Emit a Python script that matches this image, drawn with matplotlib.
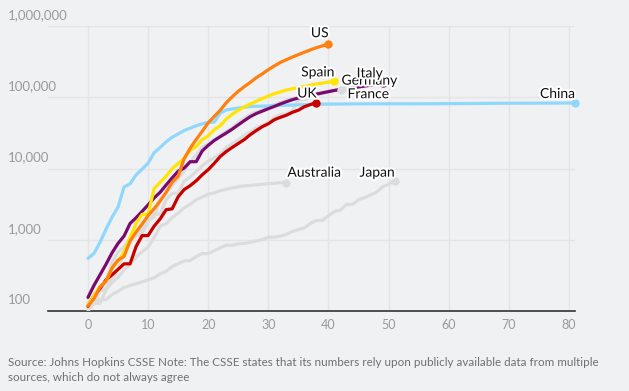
#!/usr/bin/env python3

import matplotlib
matplotlib.use("Agg")
import matplotlib.pyplot as plt
import matplotlib.patheffects as pe
from matplotlib.ticker import FixedLocator, NullLocator

# cumulative confirmed cases, day 0 = first day with ~100 cases
us = [118, 149, 217, 262, 402, 518, 583, 959, 1281, 1663, 2179, 2727, 3499, 4632,
      6421, 7783, 13747, 19273, 25600, 33276, 43847, 53740, 65778, 83836, 101657,
      121478, 140886, 161807, 188172, 213242, 243622, 275367, 308650, 336802,
      366317, 397121, 428654, 462780, 496535, 526396, 555313]
spain = [120, 165, 222, 259, 400, 500, 673, 1073, 1695, 2277, 2277, 5232, 6391, 7798,
         9942, 11748, 13910, 17963, 20410, 25374, 28768, 35136, 39885, 49515, 57786,
         65719, 73235, 80110, 87956, 95923, 104118, 112065, 119199, 126168, 131646,
         136675, 141942, 148220, 153222, 158273, 163027, 166831]
italy = [155, 229, 322, 453, 655, 888, 1128, 1694, 2036, 2502, 3089, 3858, 4636, 5883,
         7375, 9172, 10149, 12462, 12462, 17660, 21157, 24747, 27980, 31506, 35713,
         41035, 47021, 53578, 59138, 63927, 69176, 74386, 80589, 86498, 92472, 97689,
         101739, 105792, 110574, 115242, 119827, 124632, 128948, 132547, 135586,
         139422, 143626, 147577, 152271, 156363]
uk = [116, 164, 207, 274, 322, 384, 459, 459, 802, 1144, 1145, 1551, 1960, 2642, 2716,
      4014, 5067, 5745, 6726, 8164, 9640, 11812, 14745, 17312, 19780, 22453, 25481,
      29865, 34173, 38689, 42477, 48436, 52279, 55949, 61474, 65872, 73758, 78991,
      84279]
china = [548, 643, 920, 1406, 2075, 2877, 5509, 6087, 8141, 9802, 11891, 16630, 19716,
         23707, 27440, 30587, 34110, 36814, 39829, 42354, 44386, 44759, 59895, 66358,
         68413, 70513, 72434, 74211, 74619, 75077, 75550, 77001, 77022, 77241, 77754,
         78166, 78600, 78928, 79356, 79932, 80136, 80261, 80386, 80537, 80690, 80770,
         80823, 80860, 80887, 80921, 80932, 80945, 80977, 81003, 81033, 81058, 81102,
         81156, 81250, 81305, 81435, 81498, 81591, 81661, 81782, 81897, 81999, 82122,
         82198, 82279, 82361, 82432, 82511, 82543, 82602, 82665, 82718, 82809, 82883,
         82941, 82982, 83014]
germany = [130, 159, 196, 262, 482, 670, 799, 1040, 1176, 1457, 1908, 2078, 3675, 4585,
           5795, 7272, 9257, 12327, 15320, 19848, 22213, 24873, 29056, 32986, 37323,
           43938, 50871, 57695, 62095, 66885, 71808, 77872, 84794, 91159, 96092,
           100123, 103374, 107663, 113296, 118181, 122171, 124908, 127854]
france = [100, 130, 191, 204, 288, 380, 656, 957, 1134, 1217, 1792, 2289, 2289, 3672,
          4480, 4513, 6650, 7652, 9043, 10871, 12612, 14282, 16018, 19856, 22304, 25233,
          29155, 32964, 37575, 40174, 44550, 52128, 56989, 59105, 64338, 89953, 92839,
          98010, 109069, 112950, 117749, 124869, 130730, 133670]
australia = [107, 128, 128, 200, 250, 297, 377, 452, 568, 681, 791, 1071, 1549, 1682,
             2044, 2364, 2810, 3143, 3640, 3984, 4361, 4559, 4862, 5116, 5330, 5550,
             5687, 5797, 5895, 6010, 6108, 6215, 6303, 6315]
japan = [105, 132, 144, 144, 170, 189, 214, 228, 241, 256, 274, 293, 331, 360, 420, 461,
         502, 511, 581, 639, 639, 701, 773, 839, 839, 878, 889, 924, 963, 1007, 1086,
         1086, 1128, 1193, 1307, 1387, 1468, 1693, 1866, 1866, 2178, 2495, 2617, 3139,
         3139, 3654, 3906, 4257, 4667, 5530, 6005, 6748]

y_ticks = [100, 1000, 10000, 100000, 1000000]
y_tick_labels = ["100", "1,000", "10,000", "100,000", "1,000,000"]
x_ticks = [0, 10, 20, 30, 40, 50, 60, 70, 80]

note = ("Source: Johns Hopkins CSSE Note: The CSSE states that its numbers rely upon "
        "publicly available data from multiple\nsources, which do not always agree")

BG = "#f0f1f3"
GREY = "#dcdcdc"

# name, data, colour, label offset (px), label alignment
series = [
    ("Japan", japan, GREY, (0, 8), "right"),
    ("Australia", australia, GREY, (1, 10), "left"),
    ("France", france, GREY, (1, -6), "left"),
    ("Germany", germany, GREY, (1, 9), "left"),
    ("China", china, "#8fd8fb", (0, 9), "right"),
    ("Italy", italy, "#7a0a6e", (0, 10), "right"),
    ("UK", uk, "#c70000", (0, 9), "right"),
    ("Spain", spain, "#ffe500", (0, 9), "right"),
    ("US", us, "#ff7f0f", (0, 11), "right"),
]

plt.rcParams['font.family'] = ['Lato', 'DejaVu Sans']

fig = plt.figure(figsize=(6.29, 3.91), dpi=100, facecolor=BG)
ax = fig.add_axes([48 / 629, 1 - 311 / 391, 527 / 629, 285 / 391], facecolor=BG)

for name, vals, color, off, ha in series:
    days = list(range(len(vals)))
    ax.plot(days, vals, color=color, lw=2.3, solid_capstyle='round',
            solid_joinstyle='round', zorder=3)
    ax.plot(days[-1], vals[-1], 'o', color=color, ms=6, mec='none', zorder=4,
            clip_on=False)
    ax.annotate(name, (days[-1], vals[-1]), xytext=off, textcoords='offset pixels',
                ha=ha, va='center', fontsize=10, color='#121212', zorder=6,
                path_effects=[pe.withStroke(linewidth=3, foreground='white')])

ax.set_yscale('log')
ax.set_ylim(100, 1000000)
ax.set_xlim(-6.65, 81.0)

ax.yaxis.set_major_locator(FixedLocator(y_ticks))
ax.yaxis.set_minor_locator(NullLocator())
ax.set_yticklabels([])
ax.tick_params(axis='y', length=0)
for val, lab in zip(y_ticks, y_tick_labels):
    ax.annotate(lab, (0, val), xycoords=('figure fraction', 'data'),
                xytext=(8, 11), textcoords='offset pixels', ha='left', va='center',
                fontsize=9.5, color='#9a9a9a', annotation_clip=False)

ax.set_xticks(x_ticks)
ax.set_xticklabels([str(x) for x in x_ticks])
ax.tick_params(axis='x', length=0, pad=6, labelsize=9, labelcolor='#9a9a9a')

ax.grid(True, color='#e3e4e6', lw=1)
ax.set_axisbelow(True)
for side in ['top', 'right', 'left']:
    ax.spines[side].set_visible(False)
ax.spines['bottom'].set_color('#333333')
ax.spines['bottom'].set_linewidth(1.2)

fig.text(8 / 629, 1 - 357 / 391, note, ha='left', va='top', fontsize=8.4,
         color='#707070', linespacing=1.4)

fig.savefig("out.png", dpi=100, facecolor=BG)
